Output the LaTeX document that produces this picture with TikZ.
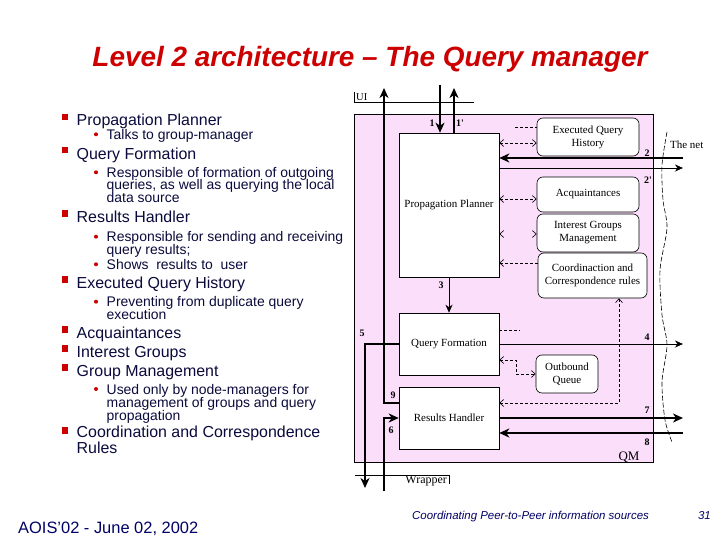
\documentclass[tikz,border=0pt]{standalone}
\usepackage{fontspec}
\setmainfont{Liberation Sans}
\newfontfamily\serifx{Liberation Serif}
\usetikzlibrary{arrows.meta}
\definecolor{titlered}{RGB}{204,0,0}
\definecolor{txt}{RGB}{10,10,60}
\definecolor{navy}{RGB}{0,0,102}
\definecolor{panel}{RGB}{250,222,250}
\begin{document}
\begin{tikzpicture}[x=1bp,y=-1bp,
  l1/.style={anchor=base west,inner sep=0,text=txt,font=\fontsize{16}{14}\selectfont,align=left},
  l2/.style={anchor=base west,inner sep=0,text=txt,font=\fontsize{14}{14}\selectfont},
  box/.style={draw,fill=white,inner sep=0,font=\serifx\fontsize{11}{13}\selectfont,align=center,line width=0.6bp},
  rbox/.style={box,rounded corners=6bp},
  lab/.style={font=\serifx\fontsize{11}{11}\selectfont,inner sep=0},
  num/.style={font=\serifx\bfseries\fontsize{10}{10}\selectfont,inner sep=0},
  thk/.style={line width=2.2bp,arrows={-Stealth[length=10bp,width=9bp,inset=3bp]}},
  vthk/.style={line width=2.8bp,arrows={-Stealth[length=10bp,width=9bp,inset=3bp]}},
  thn/.style={line width=0.8bp,arrows={-Stealth[length=8bp,width=7bp,inset=2.5bp]}},
  dsh/.style={line width=0.6bp,dash pattern=on 3bp off 2bp},
  dab/.style={dsh,arrows={Straight Barb[length=4bp,width=7bp]-Straight Barb[length=4bp,width=7bp]}},
  dla/.style={dsh,arrows={Straight Barb[length=4bp,width=7bp]-}},
  tips/.style={line width=0.6bp,dash pattern=on 0bp off 200bp,arrows={Straight Barb[length=4bp,width=7bp]-Straight Barb[length=4bp,width=7bp]}},
]
\useasboundingbox (0,0) rectangle (720,540);
\fill[white] (0,0) rectangle (720,540);

% title
\node[font=\bfseries\itshape\fontsize{28}{28}\selectfont,text=titlered,anchor=base,inner sep=0] (title) at (370,67) {Level 2 architecture -- The Query manager};

% left list
\node[l1] (a1) at (76.5,126) {Propagation Planner};
\node[l2] (a2) at (106.5,139.3) {Talks to group-manager};
\node[l1] (b1) at (76.5,159.3) {Query Formation};
\node[l2] (b2) at (106.5,177.3) {Responsible of formation of outgoing};
\node[l2] (b3) at (106.5,190) {queries, as well as querying the local};
\node[l2] (b4) at (106.5,202.7) {data source};
\node[l1] (c1) at (76.5,222.7) {Results Handler};
\node[l2] (c2) at (106.5,241.7) {Responsible for sending and receiving};
\node[l2] (c3) at (106.5,254.3) {query results;};
\node[l2] (c4) at (106.5,269.3) {Shows\ \ results to\ \ user};
\node[l1] (d1) at (76.5,288.3) {Executed Query History};
\node[l2] (d2) at (106.5,306.7) {Preventing from duplicate query};
\node[l2] (d3) at (106.5,319.3) {execution};
\node[l1] (e1) at (76.5,338.3) {Acquaintances};
\node[l1] (f1) at (76.5,357.7) {Interest Groups};
\node[l1] (g1) at (76.5,376.7) {Group Management};
\node[l2] (g2) at (106.5,394) {Used only by node-managers for};
\node[l2] (g3) at (106.5,407.3) {management of groups and query};
\node[l2] (g4) at (106.5,420) {propagation};
\node[l1] (h1) at (76.5,453.3) {Coordination and Correspondence\\Rules};
\foreach \y in {126,159.3,222.7,288.3,338.3,357.7,376.7,439.3}
  \fill[titlered] (61.8,\y-12.3) rectangle ++(6.5,6.5);
\foreach \y in {139.3,177.3,241.7,269.3,306.7,394}
  \fill[titlered] (96,\y-5) circle (2bp);

% footer
\node[anchor=base west,inner sep=0,text=navy,font=\fontsize{16.5}{16}\selectfont] (f1t) at (18,533) {AOIS'02 - June 02, 2002};
\node[anchor=base west,inner sep=0,text=navy,font=\itshape\fontsize{11.5}{12}\selectfont] (f2t) at (412,519) {Coordinating Peer-to-Peer information sources};
\node[anchor=base east,inner sep=0,text=navy,font=\itshape\fontsize{11.5}{12}\selectfont] (f3t) at (711,519) {31};

% diagram panel
\draw[fill=panel,line width=0.6bp] (354,114) rectangle (653,462);
\draw[line width=0.6bp] (354,92) -- (354,102) -- (474,102);
\node[lab,anchor=base west,font=\serifx\fontsize{10.5}{11}\selectfont] (ui) at (356,101) {UI};
\draw[line width=0.6bp] (355,475) -- (449,475) -- (449,484);
\node[lab,anchor=base east,font=\serifx\fontsize{12}{12}\selectfont] (wr) at (447,483) {Wrapper};
\node[lab,anchor=base,font=\serifx\fontsize{13}{13}\selectfont] (qm) at (629,460) {QM};
\node[lab,anchor=base west] (net) at (670,148.5) {The net};

% boxes
\node[box,minimum width=100bp,minimum height=144bp] (pp) at (449,205) {Propagation Planner};
\node[box,minimum width=100bp,minimum height=62bp] (qf) at (449,344) {Query Formation};
\node[box,minimum width=100bp,minimum height=62bp] (rh) at (449,418) {Results Handler};
\node[rbox,minimum width=102bp,minimum height=38bp] (eqh) at (588,137) {Executed Query\\History};
\node[rbox,minimum width=102bp,minimum height=35bp] (acq) at (588,194.5) {Acquaintances};
\node[rbox,minimum width=102bp,minimum height=38bp] (ig) at (588,233) {Interest Groups\\Management};
\node[rbox,minimum width=109bp,minimum height=45bp] (co) at (592.5,275.5) {Coordinaction and\\Correspondence rules};
\node[rbox,minimum width=62bp,minimum height=38bp] (oq) at (567,374) {Outbound\\Queue};

% free ends
\coordinate (t1) at (440,85);
\coordinate (t1p) at (454,88);
\coordinate (t9) at (384,88);
\coordinate (b6) at (384,491);
\coordinate (b5) at (365,488);
\coordinate (n2) at (683,158);
\coordinate (n2p) at (683,168);
\coordinate (n4) at (683,344);
\coordinate (n7) at (683,418);
\coordinate (n8) at (683,433);
\coordinate (d0) at (515,127);
\coordinate (d1) at (520,330);
\coordinate (d2) at (516,360);
\coordinate (d3) at (619,403);

% solid connectors
\draw[thk] (t1) -- (t1 |- pp.north);
\draw[thk] (t1p |- pp.north) -- (t1p);
\draw[thk] (rh.west |- 0,403) -| (t9);
\draw[thk] (b6) |- (rh.west |- 0,418);
\draw[thk] (qf.west |- 0,344) -| (b5);
\draw[thn] (pp.south) -- (qf.north);
\draw[vthk] (n2) -- (pp.east |- n2);
\draw[thn] (pp.east |- n2p) -- (n2p);
\draw[thn] (qf.east |- n4) -- (n4);
\draw[vthk] (rh.east |- n7) -- (n7);
\draw[vthk] (n8) -- (rh.east |- n8);

% dashed connectors
\draw[dsh] (d0) -- (eqh.west |- d0);
\draw[dab] (pp.east |- 0,143) -- (eqh.west |- 0,143);
\draw[dab] (pp.east |- 0,199) -- (acq.west |- 0,199);
\draw[tips] (pp.east |- 0,234) -- (ig.west |- 0,234);
\draw[dla] (pp.east |- 0,263) -- (co.west |- 0,263);
\draw[dsh] (qf.east |- d1) -- (d1);
\draw[dab] (qf.east |- d2) -- (d2) |- (oq.west);
\draw[dab] (rh.east |- d3) -- (d3) -- (d3 |- co.south);

% the net boundary
\draw[line width=0.6bp,dash pattern=on 5bp off 2bp] plot[smooth] coordinates {(667,132) (662,165) (663,200) (667,228) (660,270) (662,315) (667,345) (662,382) (665,420) (672,442)};

% numbers
\node[num] (n1l) at (432,123) {1};
\node[num] (n1pl) at (460,123) {1'};
\node[num] (n2l) at (647,153) {2};
\node[num] (n2pl) at (648,180) {2'};
\node[num] (n3l) at (441,285) {3};
\node[num] (n4l) at (647,337) {4};
\node[num] (n5l) at (362,333) {5};
\node[num] (n6l) at (391,430) {6};
\node[num] (n9l) at (393,395) {9};
\node[num] (n7l) at (647,410) {7};
\node[num] (n8l) at (647,442) {8};
\end{tikzpicture}
\end{document}
